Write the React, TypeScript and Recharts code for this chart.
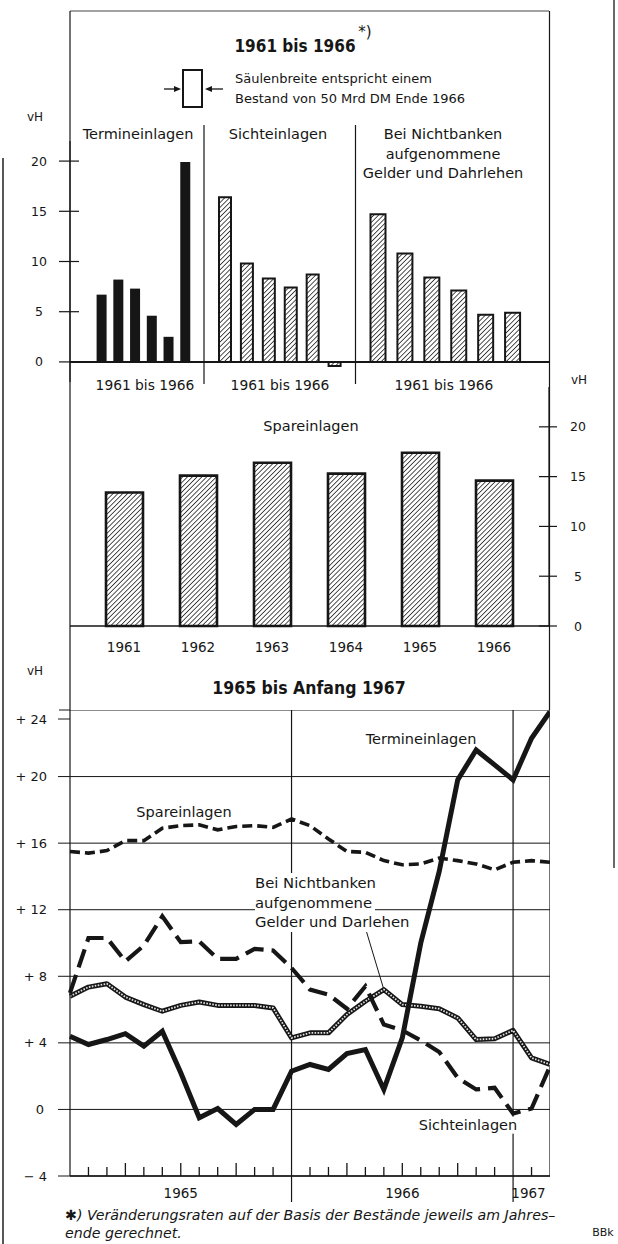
import React from 'react'
import { BarChart, Bar, LineChart, Line, XAxis, YAxis, CartesianGrid, ReferenceLine } from 'recharts'

const FONT = "'DejaVu Sans', sans-serif"
const COND = "'DejaVu Sans Condensed', 'DejaVu Sans', sans-serif"
const INK = '#161616'

// Jahresraten 1961 bis 1966 (vH)
const years = ['1961', '1962', '1963', '1964', '1965', '1966']
const terminYear = [6.7, 8.2, 7.3, 4.6, 2.5, 19.9]
const sichtYear = [16.4, 9.8, 8.3, 7.4, 8.7, -0.4]
const nichtYear = [14.7, 10.8, 8.4, 7.1, 4.7, 4.9]
const sparYear = [13.4, 15.1, 16.4, 15.3, 17.4, 14.6]
const barTicks = [0, 5, 10, 15, 20]

// Monatswerte Dez 1964 bis Feb 1967 (vH gegenueber Vorjahresende)
const months = [
  'Dez 64', 'Jan 65', 'Feb 65', 'Mrz 65', 'Apr 65', 'Mai 65', 'Jun 65', 'Jul 65', 'Aug 65',
  'Sep 65', 'Okt 65', 'Nov 65', 'Dez 65', 'Jan 66', 'Feb 66', 'Mrz 66', 'Apr 66', 'Mai 66',
  'Jun 66', 'Jul 66', 'Aug 66', 'Sep 66', 'Okt 66', 'Nov 66', 'Dez 66', 'Jan 67', 'Feb 67',
]
const terminMonth = [4.4, 3.9, 4.2, 4.55, 3.8, 4.7, 2.2, -0.5, 0.05, -0.9, 0.0, 0.0, 2.3, 2.7, 2.4, 3.35, 3.6, 1.2, 4.3, 10.0, 14.3, 19.8, 21.6, 20.7, 19.8, 22.3, 23.9]
const sparMonth = [15.5, 15.4, 15.55, 16.15, 16.15, 16.9, 17.05, 17.1, 16.8, 17.0, 17.05, 16.95, 17.45, 17.05, 16.25, 15.5, 15.45, 14.95, 14.7, 14.75, 15.1, 14.95, 14.75, 14.4, 14.85, 14.95, 14.85]
const sichtMonth = [7.0, 10.3, 10.3, 8.9, 9.85, 11.6, 10.05, 10.1, 9.05, 9.05, 9.65, 9.55, 8.5, 7.2, 6.9, 6.05, 7.4, 5.1, 4.75, 4.15, 3.45, 1.9, 1.2, 1.3, -0.25, 0.05, 2.6]
const nichtMonth = [6.8, 7.35, 7.55, 6.75, 6.3, 5.9, 6.25, 6.45, 6.25, 6.25, 6.25, 6.1, 4.3, 4.6, 4.6, 5.7, 6.5, 7.2, 6.3, 6.2, 6.05, 5.5, 4.2, 4.25, 4.75, 3.1, 2.7]
const lineTicks = [-4, 0, 4, 8, 12, 16, 20, 24]
const yearLabelAt = [6, 18, 25]
const yearLabels = ['1965', '1966', '1967']
const yearBreaks = [12, 24]

const lineData = months.map((m, i) => ({
  i, m,
  termin: terminMonth[i],
  spar: sparMonth[i],
  sicht: sichtMonth[i],
  nicht: nichtMonth[i],
}))

function T({ x, y, size = 14.5, bold = false, italic = false, anchor = 'middle', bg, children }: any) {
  const tx = anchor === 'middle' ? '-50%' : anchor === 'end' ? '-100%' : '0'
  return (
    <div style={{
      position: 'absolute', left: x, top: y, transform: `translate(${tx}, -50%)`,
      fontFamily: bold ? COND : FONT, fontSize: size, fontWeight: bold ? 700 : 400,
      fontStyle: italic ? 'italic' : 'normal', whiteSpace: 'nowrap', lineHeight: 1.15,
      color: INK, background: bg,
    }}>{children}</div>
  )
}

function Hatch({ id }: { id: string }) {
  return (
    <defs>
      <pattern id={id} width={3.4} height={3.4} patternUnits="userSpaceOnUse" patternTransform="rotate(45)">
        <rect width={3.4} height={3.4} fill="#fff" />
        <line x1={0} y1={0} x2={0} y2={3.4} stroke={INK} strokeWidth={1.5} />
      </pattern>
    </defs>
  )
}

const LeftBarTick = (p: any) => (
  <g>
    <line x1={p.x - 11} x2={p.x + 9} y1={p.y} y2={p.y} stroke={INK} strokeWidth={1.2} />
    <text x={p.x - 31} y={p.y} textAnchor="middle" dominantBaseline="central" fontSize={12.5} fontFamily={FONT} fill={INK}>
      {p.payload.value}
    </text>
  </g>
)

const RightBarTick = (p: any) => (
  <g>
    <line x1={p.x - 10} x2={p.x + 8} y1={p.y} y2={p.y} stroke={INK} strokeWidth={1.2} />
    <text x={p.x + 29} y={p.y} textAnchor="middle" dominantBaseline="central" fontSize={12.5} fontFamily={FONT} fill={INK}>
      {p.payload.value}
    </text>
  </g>
)

const LineYTick = (p: any) => {
  const v = p.payload.value
  const label = v > 0 ? `+ ${v}` : v < 0 ? `\u2212 ${-v}` : '0'
  return (
    <g>
      <line x1={p.x - 12} x2={p.x} y1={p.y} y2={p.y} stroke={INK} strokeWidth={1} />
      <text x={v === 0 ? p.x - 30 : p.x - 23} y={p.y} textAnchor={v === 0 ? 'middle' : 'end'} dominantBaseline="central" fontSize={13} fontFamily={FONT} fill={INK}>
        {label}
      </text>
    </g>
  )
}

const MonthTick = (p: any) => {
  const i = p.payload.value
  const li = yearLabelAt.indexOf(i)
  const isBreak = yearBreaks.includes(i)
  const h = i % 3 === 0 ? 13 : 9
  return (
    <g>
      {isBreak && <line x1={p.x} x2={p.x} y1={p.y} y2={p.y + 26} stroke={INK} strokeWidth={1.2} />}
      {!isBreak && i > 0 && i < 26 && <line x1={p.x} x2={p.x} y1={p.y} y2={p.y - h} stroke={INK} strokeWidth={1.3} />}
      {li >= 0 && (
        <text x={i === 25 ? p.x - 3 : p.x} y={p.y + 17} textAnchor="middle" dominantBaseline="central" fontSize={13.5} fontFamily={FONT} fill={INK}>
          {yearLabels[li]}
        </text>
      )}
    </g>
  )
}

function YearBars({ left, width, values, barSize, padL, padR, hatch, axis }: any) {
  const data = years.map((year, i) => ({ year, v: values[i] }))
  const id = `hatch-${left}`
  return (
    <div style={{ position: 'absolute', left, top: 141 }}>
      <BarChart width={width} height={241} data={data} margin={{ top: 0, right: 0, bottom: 0, left: 0 }}>
        <Hatch id={id} />
        <XAxis dataKey="year" hide padding={{ left: padL, right: padR }} />
        <YAxis
          domain={[-2, 22]}
          ticks={barTicks}
          hide={!axis}
          width={70}
          axisLine={{ stroke: INK, strokeWidth: 1.2 }}
          tickLine={false}
          tickSize={0}
          tickMargin={0}
          tick={<LeftBarTick />}
        />
        <Bar
          dataKey="v"
          barSize={barSize}
          fill={hatch ? `url(#${id})` : INK}
          stroke={hatch ? INK : 'none'}
          strokeWidth={hatch ? 2 : 0}
          isAnimationActive={false}
        />
        <ReferenceLine y={0} stroke={INK} strokeWidth={2} />
      </BarChart>
    </div>
  )
}

export default function App() {
  const sparData = years.map((year, i) => ({ year, v: sparYear[i] }))
  return (
    <div style={{ position: 'absolute', left: 0, top: 0, width: 618, height: 1244, background: '#fff', overflow: 'hidden' }}>
      {/* 1961 bis 1966: Termin-, Sicht-, Nichtbankeneinlagen */}
      <YearBars left={0} width={204} values={terminYear} barSize={10} padL={23.6} padR={10} axis />
      <YearBars left={204} width={151.5} values={sichtYear} barSize={12} padL={10} padR={10} hatch />
      <YearBars left={355.5} width={193.5} values={nichtYear} barSize={15} padL={8.5} padR={23.5} hatch />

      {/* Spareinlagen */}
      <div style={{ position: 'absolute', left: 70, top: 387 }}>
        <BarChart width={549} height={269} data={sparData} margin={{ top: 0, right: 0, bottom: 0, left: 0 }}>
          <Hatch id="hatch-spar" />
          <XAxis
            dataKey="year"
            height={30}
            padding={{ left: 17, right: 18 }}
            axisLine={{ stroke: INK, strokeWidth: 1.5 }}
            tickLine={false}
            tickMargin={10}
            tick={{ fill: INK, fontSize: 13.5, fontFamily: FONT }}
          />
          <YAxis
            orientation="right"
            domain={[0, 24]}
            ticks={barTicks}
            width={70}
            axisLine={{ stroke: INK, strokeWidth: 1.2 }}
            tickLine={false}
            tickSize={0}
            tickMargin={0}
            tick={<RightBarTick />}
          />
          <Bar dataKey="v" barSize={37} fill="url(#hatch-spar)" stroke={INK} strokeWidth={2.6} isAnimationActive={false} />
        </BarChart>
      </div>

      {/* 1965 bis Anfang 1967 */}
      <div style={{ position: 'absolute', left: 0, top: 710 }}>
        <LineChart width={550} height={496} data={lineData} margin={{ top: 0, right: 0, bottom: 0, left: 0 }}>
          <CartesianGrid vertical={false} stroke={INK} strokeWidth={1} />
          <XAxis
            dataKey="i"
            type="number"
            domain={[0, 26]}
            ticks={months.map((_, i) => i)}
            interval={0}
            height={30}
            axisLine={{ stroke: INK, strokeWidth: 1.5 }}
            tickLine={false}
            tickSize={0}
            tickMargin={0}
            tick={<MonthTick />}
          />
          <YAxis
            domain={[-4, 24]}
            ticks={lineTicks}
            width={70}
            axisLine={{ stroke: INK, strokeWidth: 1.2 }}
            tickLine={false}
            tickSize={0}
            tickMargin={0}
            tick={<LineYTick />}
          />
          {yearBreaks.map(b => <ReferenceLine key={b} x={b} stroke={INK} strokeWidth={1.2} />)}
          <ReferenceLine x={26} stroke={INK} strokeWidth={1.2} />
          <ReferenceLine segment={[{ x: 16.0, y: 10.9 }, { x: 17, y: nichtMonth[17] }]} stroke={INK} strokeWidth={1} />
          <Line dataKey="nicht" stroke={INK} strokeWidth={5} dot={false} isAnimationActive={false} strokeLinejoin="round" />
          <Line dataKey="nicht" stroke="#e2e2e2" strokeWidth={1.8} strokeDasharray="1.6 1.4" dot={false} isAnimationActive={false} />
          <Line dataKey="spar" stroke={INK} strokeWidth={3.6} strokeDasharray="10 5" dot={false} isAnimationActive={false} />
          <Line dataKey="sicht" stroke={INK} strokeWidth={4.2} strokeDasharray="19 8" dot={false} isAnimationActive={false} />
          <Line dataKey="termin" stroke={INK} strokeWidth={5} dot={false} isAnimationActive={false} strokeLinejoin="miter" />
        </LineChart>
      </div>

      {/* Rahmen und Hilfslinien */}
      <svg width={618} height={1244} style={{ position: 'absolute', left: 0, top: 0, pointerEvents: 'none' }}>
        <line x1={70} x2={549} y1={11} y2={11} stroke="#444" strokeWidth={1} />
        <line x1={70} x2={70} y1={11} y2={710} stroke={INK} strokeWidth={1.2} />
        <line x1={549.5} x2={549.5} y1={11} y2={710} stroke={INK} strokeWidth={1.2} />
        <line x1={204} x2={204} y1={125} y2={384} stroke={INK} strokeWidth={1.2} />
        <line x1={355.5} x2={355.5} y1={125} y2={384} stroke={INK} strokeWidth={1.2} />
        <line x1={59} x2={70} y1={710} y2={710} stroke={INK} strokeWidth={1} />
        {/* Legende Saeulenbreite */}
        <rect x={183} y={70} width={19} height={37} fill="#fff" stroke={INK} strokeWidth={2} />
        <line x1={164} x2={176} y1={89} y2={89} stroke={INK} strokeWidth={1.3} />
        <polygon points="181,89 174,86 174,92" fill={INK} />
        <line x1={223} x2={211} y1={89} y2={89} stroke={INK} strokeWidth={1.3} />
        <polygon points="205,89 212,86 212,92" fill={INK} />
        {/* Blattkanten */}
        <line x1={3} x2={3} y1={158} y2={1244} stroke="#444" strokeWidth={1.8} />
        <line x1={614} x2={614} y1={0} y2={868} stroke="#444" strokeWidth={1.6} />
      </svg>

      {/* Texte oben */}
      <T x={295} y={47} size={17} bold>1961 bis 1966</T>
      <T x={365} y={33} size={15}>*)</T>
      <T x={235} y={79} size={13} anchor="start">Säulenbreite entspricht einem</T>
      <T x={235} y={99} size={13} anchor="start">Bestand von 50 Mrd DM Ende 1966</T>
      <T x={35} y={118} size={12}>vH</T>
      <T x={138} y={134}>Termineinlagen</T>
      <T x={278} y={134}>Sichteinlagen</T>
      <T x={443} y={134}>Bei Nichtbanken</T>
      <T x={443} y={154}>aufgenommene</T>
      <T x={443} y={173}>Gelder und Dahrlehen</T>
      <T x={145} y={386} size={13.8}>1961 bis 1966</T>
      <T x={280} y={386} size={13.8}>1961 bis 1966</T>
      <T x={444} y={386} size={13.8}>1961 bis 1966</T>
      <T x={579} y={381} size={12}>vH</T>
      <T x={311} y={426}>Spareinlagen</T>

      {/* Texte unten */}
      <T x={35} y={672} size={12}>vH</T>
      <T x={309} y={688} size={17.5} bold>1965 bis Anfang 1967</T>
      <T x={421} y={739}>Termineinlagen</T>
      <T x={184} y={812}>Spareinlagen</T>
      <div style={{ position: 'absolute', left: 255, top: 873, fontFamily: FONT, fontSize: 14.8, color: INK, lineHeight: '19.5px' }}>
        {['Bei Nichtbanken', 'aufgenommene', 'Gelder und Darlehen'].map(s => (
          <div key={s}><span style={{ background: '#fff', padding: '1px 3px 2px 0' }}>{s}</span></div>
        ))}
      </div>
      <T x={468} y={1125} bg="#fff">Sichteinlagen</T>
      <T x={65} y={1215} size={14.2} italic anchor="start">✱) Veränderungsraten auf der Basis der Bestände jeweils am Jahres–</T>
      <T x={65} y={1233} size={14.2} italic anchor="start">ende gerechnet.</T>
      <T x={603} y={1233} size={11}>BBk</T>
    </div>
  )
}
